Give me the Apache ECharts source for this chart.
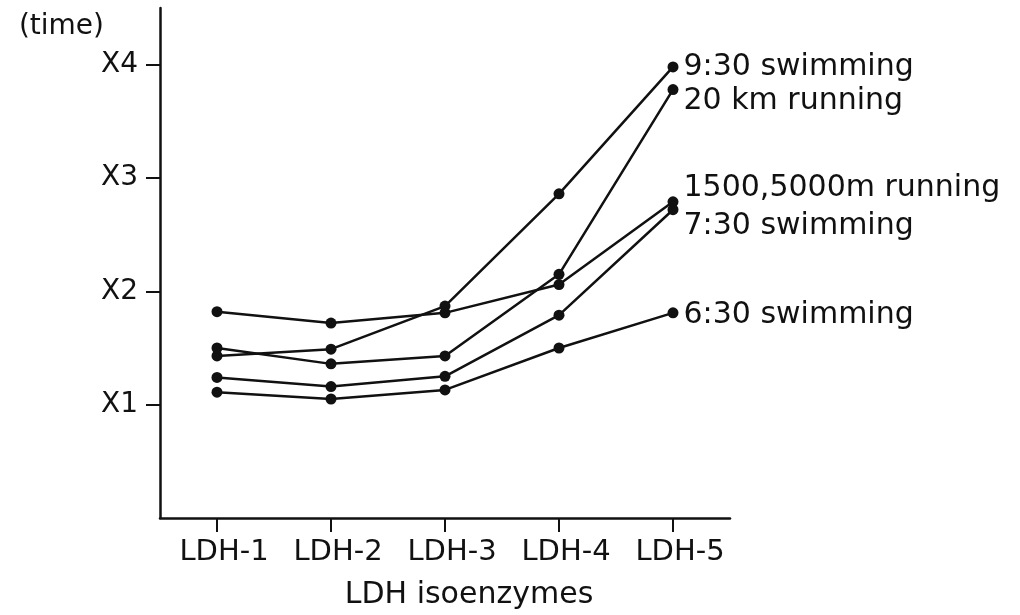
<!DOCTYPE html>
<html>
<head>
<meta charset="utf-8">
<script src="https://cdn.jsdelivr.net/npm/echarts@6/dist/echarts.min.js"></script>
<style>
html, body { margin: 0; padding: 0; background: #fff; }
#main { width: 1020px; height: 615px; }
</style>
</head>
<body>
<div id="main"></div>
<script>
// LDH isoenzymes, multiple of resting value
var categories = ['LDH-1', 'LDH-2', 'LDH-3', 'LDH-4', 'LDH-5'];
var yTicks = [1, 2, 3, 4];

var swim930 = [1.43, 1.49, 1.87, 2.86, 3.98];
var run20km = [1.50, 1.36, 1.43, 2.15, 3.78];
var run1500 = [1.82, 1.72, 1.81, 2.06, 2.79];
var swim730 = [1.24, 1.16, 1.25, 1.79, 2.72];
var swim630 = [1.11, 1.05, 1.13, 1.50, 1.81];

var seriesNames = ['9:30 swimming', '20 km running', '1500,5000m running', '7:30 swimming', '6:30 swimming'];
var seriesValues = [swim930, run20km, run1500, swim730, swim630];

var ink = '#111';
var font = 'DejaVu Sans';
// vertical nudge of the end labels so they don't collide
var labelShift = [0, 12, -14, 16, 2];

var chartDom = document.getElementById('main');
var myChart = echarts.init(chartDom);
var option;

var series = seriesValues.map(function (vals, k) {
    var last = vals.length - 1;
    return {
        name: seriesNames[k],
        type: 'line',
        symbol: 'circle',
        symbolSize: 11,
        itemStyle: { color: ink },
        lineStyle: { color: ink, width: 2.5 },
        emphasis: { disabled: true },
        data: vals.map(function (v, i) {
            if (i !== last) return v;
            return {
                value: v,
                label: {
                    show: true,
                    position: 'right',
                    distance: 5,
                    offset: [0, labelShift[k]],
                    formatter: seriesNames[k],
                    color: ink,
                    fontFamily: font,
                    fontSize: 30
                }
            };
        })
    };
});

option = {
    animation: false,
    backgroundColor: '#fff',
    grid: {
        left: 160,
        top: 8,
        width: 570,
        height: 510
    },
    xAxis: {
        type: 'category',
        data: categories,
        boundaryGap: true,
        name: 'LDH isoenzymes',
        nameLocation: 'middle',
        nameGap: 62,
        nameTextStyle: {
            color: ink,
            fontFamily: font,
            fontSize: 30,
            padding: [0, 0, 0, 48]
        },
        axisLine: { lineStyle: { color: ink, width: 2.5 } },
        axisTick: { show: true, interval: 0, alignWithLabel: true, length: 14, lineStyle: { color: ink, width: 2 } },
        axisLabel: {
            interval: 0,
            hideOverlap: false,
            color: ink,
            fontFamily: font,
            fontSize: 29,
            margin: 20,
            padding: [0, 0, 0, 14]
        },
        splitLine: { show: false }
    },
    yAxis: {
        type: 'value',
        min: 0,
        max: 4.5,
        name: '(time)',
        nameLocation: 'end',
        nameGap: -33,
        nameTextStyle: {
            color: ink,
            fontFamily: font,
            fontSize: 28,
            align: 'right',
            padding: [0, 56, 0, 0]
        },
        axisLine: { show: true, lineStyle: { color: ink, width: 2.5 } },
        axisTick: { show: true, length: 14, customValues: yTicks, lineStyle: { color: ink, width: 2 } },
        axisLabel: {
            customValues: yTicks,
            color: ink,
            fontFamily: font,
            fontSize: 28,
            margin: 22,
            formatter: function (v) { return 'X' + v; }
        },
        splitLine: { show: false }
    },
    series: series
};

myChart.setOption(option);
</script>
</body>
</html>
